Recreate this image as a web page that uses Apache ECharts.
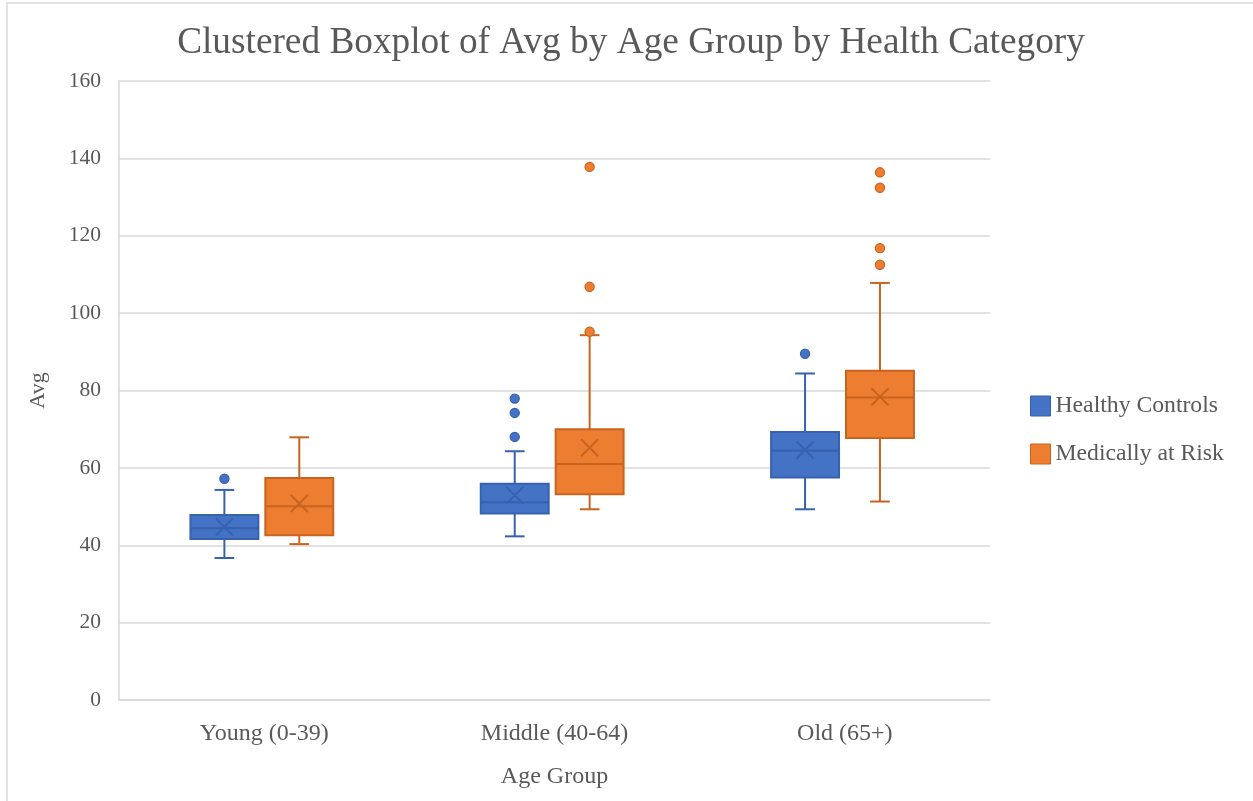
<!DOCTYPE html>
<html>
<head>
<meta charset="utf-8">
<script src="https://cdn.jsdelivr.net/npm/echarts@6/dist/echarts.min.js"></script>
<style>html,body{margin:0;padding:0;background:#fff}#c{width:1253px;height:801px}</style>
</head>
<body>
<div id="c"></div>
<script>
const categories = ['Young (0-39)', 'Middle (40-64)', 'Old (65+)'];
const seriesNames = ['Healthy Controls', 'Medically at Risk'];
const yTicks = [0, 20, 40, 60, 80, 100, 120, 140, 160];
// [lowerWhisker, Q1, median, Q3, upperWhisker]
const healthyBoxes = [
  [36.7, 41.6, 44.4, 47.8, 54.3],
  [42.3, 48.2, 51.1, 55.9, 64.3],
  [49.3, 57.5, 64.4, 69.3, 84.4]
];
const healthyMeans = [44.7, 52.9, 64.6];
const healthyOutliers = [[0, 57.2], [1, 68.0], [1, 74.2], [1, 77.9], [2, 89.5]];
const riskBoxes = [
  [40.3, 42.6, 50.1, 57.4, 67.9],
  [49.3, 53.2, 61.0, 70.0, 94.3],
  [51.3, 67.7, 78.2, 85.1, 107.8]
];
const riskMeans = [50.8, 65.2, 78.4];
const riskOutliers = [[1, 95.2], [1, 106.8], [1, 137.8], [2, 112.5], [2, 116.8], [2, 132.4], [2, 136.4]];

const fills = ['#4472C4', '#ED7D31'];
const lines = ['#3762B0', '#C8641F'];
const offsets = [-0.137, 0.121];
const boxFrac = 0.234;

function boxData(boxes, means) {
  return boxes.map((b, i) => [i].concat(b, [means[i]]));
}

function makeBoxRender(k) {
  return function (params, api) {
    const cat = api.value(0);
    const band = api.size([1, 0])[0];
    const cx = api.coord([cat, 0])[0] + offsets[k] * band;
    const w = band * boxFrac;
    const cap = w * 0.29;
    const y = i => api.coord([cat, api.value(i)])[1];
    const lo = y(1), q1 = y(2), med = y(3), q3 = y(4), hi = y(5), mean = y(6);
    const ls = { stroke: lines[k], lineWidth: 2, fill: null };
    const m = 8.5;
    return {
      type: 'group',
      children: [
        { type: 'line', shape: { x1: cx, y1: q3, x2: cx, y2: hi }, style: ls },
        { type: 'line', shape: { x1: cx, y1: q1, x2: cx, y2: lo }, style: ls },
        { type: 'line', shape: { x1: cx - cap / 2, y1: hi, x2: cx + cap / 2, y2: hi }, style: ls },
        { type: 'line', shape: { x1: cx - cap / 2, y1: lo, x2: cx + cap / 2, y2: lo }, style: ls },
        { type: 'rect', shape: { x: cx - w / 2, y: q3, width: w, height: q1 - q3 }, style: { fill: fills[k], stroke: lines[k], lineWidth: 2 } },
        { type: 'line', shape: { x1: cx - w / 2, y1: med, x2: cx + w / 2, y2: med }, style: ls },
        { type: 'line', shape: { x1: cx - m, y1: mean - m, x2: cx + m, y2: mean + m }, style: ls },
        { type: 'line', shape: { x1: cx - m, y1: mean + m, x2: cx + m, y2: mean - m }, style: ls }
      ]
    };
  };
}

function makeOutlierRender(k) {
  return function (params, api) {
    const cat = api.value(0);
    const band = api.size([1, 0])[0];
    const p = api.coord([cat, api.value(1)]);
    return {
      type: 'circle',
      shape: { cx: p[0] + offsets[k] * band, cy: p[1], r: 4.6 },
      style: { fill: fills[k], stroke: lines[k], lineWidth: 1.2 }
    };
  };
}

const font = 'Liberation Serif, Times New Roman, serif';
const chart = echarts.init(document.getElementById('c'));
chart.setOption({
  backgroundColor: '#fff',
  animation: false,
  title: {
    text: 'Clustered Boxplot of Avg by Age Group by Health Category',
    left: 626, top: 20, textAlign: 'center',
    textStyle: { fontFamily: font, fontSize: 37.3, fontWeight: 'normal', color: '#595959' }
  },
  graphic: [{
    type: 'rect', shape: { x: 7, y: 3, width: 1300, height: 900 },
    style: { fill: null, stroke: '#d9d9d9', lineWidth: 1.5 }, silent: true
  }],
  legend: {
    orient: 'vertical', left: 1025, top: 389, itemGap: 24,
    itemWidth: 20, itemHeight: 20, icon: 'rect',
    textStyle: { fontFamily: font, fontSize: 23.7, color: '#595959', padding: [0, 0, 0, 0] },
    data: [
      { name: seriesNames[0], itemStyle: { color: fills[0], borderColor: lines[0], borderWidth: 1 } },
      { name: seriesNames[1], itemStyle: { color: fills[1], borderColor: lines[1], borderWidth: 1 } }
    ]
  },
  grid: { left: 119, right: 263, top: 81, bottom: 101 },
  xAxis: {
    type: 'category', data: categories,
    name: 'Age Group', nameLocation: 'middle', nameGap: 65,
    nameTextStyle: { fontFamily: font, fontSize: 24, color: '#595959' },
    axisLine: { lineStyle: { color: '#d9d9d9', width: 1.5 } },
    axisTick: { show: false },
    axisLabel: { fontFamily: font, fontSize: 24, color: '#595959', margin: 22 }
  },
  yAxis: {
    type: 'value', min: yTicks[0], max: yTicks[yTicks.length - 1], interval: 20,
    name: 'Avg', nameLocation: 'middle', nameGap: 70,
    nameTextStyle: { fontFamily: font, fontSize: 22, color: '#595959' },
    axisLine: { show: true, lineStyle: { color: '#d9d9d9', width: 1.5 } },
    axisTick: { show: false },
    splitLine: { lineStyle: { color: '#d9d9d9', width: 1.5 } },
    axisLabel: { fontFamily: font, fontSize: 21.5, color: '#595959', margin: 18 }
  },
  series: [
    { name: seriesNames[0], type: 'custom', itemStyle: { color: fills[0] }, renderItem: makeBoxRender(0),
      encode: { x: 0, y: [1, 2, 3, 4, 5, 6] }, data: boxData(healthyBoxes, healthyMeans), z: 3 },
    { name: seriesNames[1], type: 'custom', itemStyle: { color: fills[1] }, renderItem: makeBoxRender(1),
      encode: { x: 0, y: [1, 2, 3, 4, 5, 6] }, data: boxData(riskBoxes, riskMeans), z: 3 },
    { name: seriesNames[0], type: 'custom', itemStyle: { color: fills[0] }, renderItem: makeOutlierRender(0),
      encode: { x: 0, y: 1 }, data: healthyOutliers, z: 4 },
    { name: seriesNames[1], type: 'custom', itemStyle: { color: fills[1] }, renderItem: makeOutlierRender(1),
      encode: { x: 0, y: 1 }, data: riskOutliers, z: 4 }
  ]
});
</script>
</body>
</html>
